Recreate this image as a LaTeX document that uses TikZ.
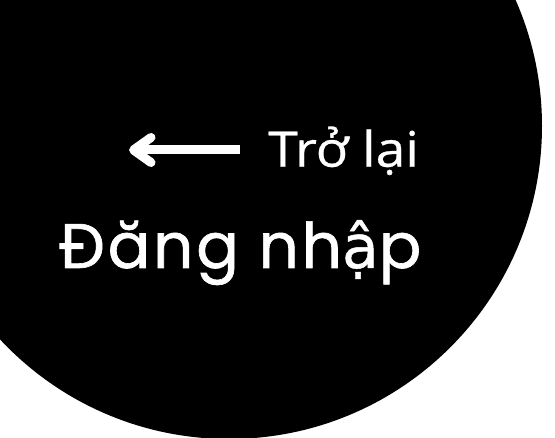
\documentclass[tikz,border=0pt]{standalone}
\usepackage{fontspec}
\usepackage{tikz}
\usetikzlibrary{positioning}
\newfontfamily\backfont[FakeStretch=1.09,FakeBold=0.6]{Open Sans}
\newfontfamily\titlefont[FakeBold=1,LetterSpace=4.5]{Poppins}
\newfontfamily\vietfont[FakeBold=0.8]{DejaVu Sans}
\tikzstyle{label} = [white,inner sep=0pt,anchor=base west]
\tikzstyle{back arrow} = [white,line width=9pt,line cap=round,line join=round]

\begin{document}
\begin{tikzpicture}[x=1pt,y=-1pt]
	\useasboundingbox (0,0) rectangle (555,438);
	\clip (0,0) rectangle (555,438);
	
	% Disc:
	% big black circle, partly outside the frame
	\fill [black] (229,126) circle (313pt);
	
	\begin{scope}[font=\backfont\fontsize{49}{50}\selectfont]
		% Back link:
		\node [label] (back) at (268,166.7) {Trở lại};
		\draw [back arrow] (151,137.5) -- (133.5,150) -- (151,162.5);
		\draw [back arrow,line cap=butt] (133.5,150) -- (239.5,150);
	\end{scope}
	
	% Title:
	% Poppins has no glyph for the last vowel, DejaVu Sans sets it
	\node [label,font=\titlefont\fontsize{63}{64}\selectfont] (title) at (59,268) {Đăng nh{\vietfont\fontsize{60}{64}\selectfont ậ}p};
	
\end{tikzpicture}
\end{document}
